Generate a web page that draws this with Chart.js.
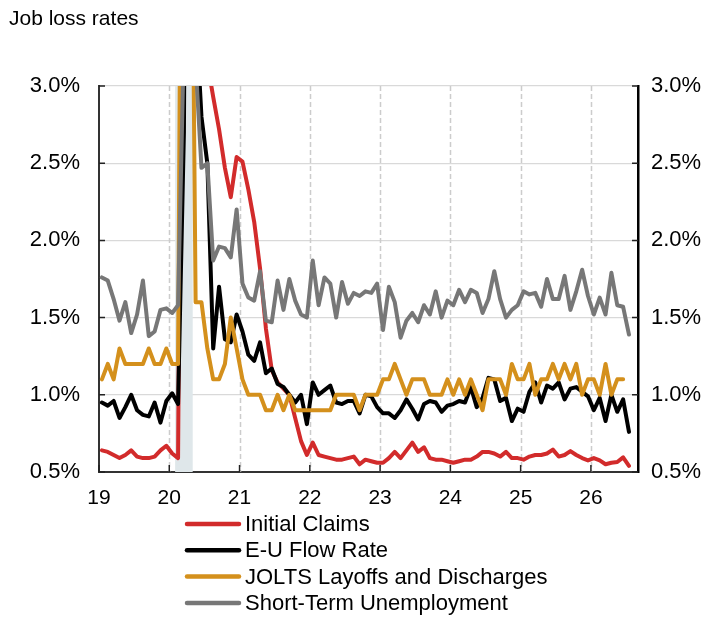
<!DOCTYPE html>
<html>
<head>
<meta charset="utf-8">
<title>Job loss rates</title>
<script src="https://cdn.jsdelivr.net/npm/chart.js@4.4.1/dist/chart.umd.min.js"></script>
<style>
    html, body { margin: 0; padding: 0; background: #fff; }
    #wrap { width: 712px; height: 622px; }
</style>
</head>
<body>
<div id="wrap"><canvas id="jobLossChart" width="712" height="622"></canvas></div>
<script>
// monthly data, Jan 2019 - Jul 2026 (percent)
const startYear = 2019;
const yearTicks = [2019, 2020, 2021, 2022, 2023, 2024, 2025, 2026];
const rateTicks = [0.5, 1.0, 1.5, 2.0, 2.5, 3.0];
const recessionStart = 2020 + 1 / 12;
const recessionEnd = 2020 + 4 / 12;

const seriesNames = ['Initial Claims', 'E-U Flow Rate', 'JOLTS Layoffs and Discharges', 'Short-Term Unemployment'];
const seriesColors = ['#d22b2b', '#000000', '#d4901c', '#777777'];

const initialClaims = [
    0.64, 0.63, 0.61, 0.59, 0.61, 0.64, 0.60, 0.59, 0.59, 0.60, 0.64, 0.67,
    0.62, 0.59, 6.0, 14.0, 8.0, 5.0, 3.15, 2.93, 2.72, 2.47, 2.28, 2.54,
    2.51, 2.33, 2.12, 1.82, 1.43, 1.16, 1.08, 1.04, 1.00, 0.85, 0.70, 0.61,
    0.69, 0.61, 0.60, 0.59, 0.58, 0.58, 0.59, 0.60, 0.55, 0.58, 0.57, 0.56,
    0.56, 0.59, 0.63, 0.59, 0.64, 0.69, 0.63, 0.66, 0.59, 0.58, 0.58, 0.57,
    0.56, 0.57, 0.58, 0.58, 0.60, 0.63, 0.63, 0.62, 0.60, 0.63, 0.59, 0.59,
    0.58, 0.60, 0.61, 0.61, 0.62, 0.645, 0.60, 0.61, 0.635, 0.61, 0.59, 0.575,
    0.59, 0.575, 0.55, 0.56, 0.565, 0.595, 0.54
];
const euFlowRate = [
    0.95, 0.93, 0.96, 0.85, 0.92, 1.00, 0.90, 0.87, 0.86, 0.95, 0.82, 0.96,
    1.01, 0.94, 2.7, 9.5, 3.5, 2.8, 2.5, 1.30, 1.70, 1.36, 1.34, 1.52,
    1.41, 1.26, 1.22, 1.34, 1.14, 1.17, 1.07, 1.05, 1.00, 0.95, 1.00, 0.81,
    1.08, 1.00, 1.03, 1.06, 0.95, 0.94, 0.96, 0.96, 0.88, 1.00, 0.99, 0.92,
    0.88, 0.88, 0.85, 0.90, 0.97, 0.91, 0.84, 0.94, 0.96, 0.95, 0.89, 0.93,
    0.94, 0.96, 0.95, 1.05, 0.92, 0.98, 1.11, 1.10, 0.96, 0.98, 0.83, 0.91,
    0.89, 1.02, 1.08, 0.95, 1.06, 1.04, 1.08, 0.97, 1.04, 1.05, 1.02, 0.99,
    0.90, 0.98, 0.83, 1.00, 0.89, 0.97, 0.76
];
const joltsLayoffs = [
    1.1, 1.2, 1.1, 1.3, 1.2, 1.2, 1.2, 1.2, 1.3, 1.2, 1.2, 1.3,
    1.2, 1.2, 7.5, 5.9, 1.6, 1.6, 1.3, 1.1, 1.1, 1.2, 1.5, 1.3,
    1.1, 1.0, 1.0, 1.0, 0.9, 0.9, 1.0, 0.9, 1.0, 0.9, 0.9, 0.9,
    0.9, 0.9, 0.9, 0.9, 1.0, 1.0, 1.0, 1.0, 0.9, 1.0, 1.0, 1.0,
    1.1, 1.1, 1.2, 1.1, 1.0, 1.1, 1.1, 1.1, 1.0, 1.0, 1.0, 1.1,
    1.0, 1.1, 1.0, 1.1, 1.0, 0.9, 1.1, 1.1, 1.1, 1.0, 1.2, 1.1,
    1.1, 1.2, 1.0, 1.1, 1.1, 1.2, 1.1, 1.2, 1.1, 1.2, 1.0, 1.1,
    1.1, 1.0, 1.2, 1.0, 1.1, 1.1, null
];
const shortTermUnemp = [
    1.76, 1.74, 1.62, 1.48, 1.60, 1.40, 1.52, 1.74, 1.38, 1.41, 1.55, 1.56,
    1.53, 1.58, 3.3, 9.0, 3.15, 2.47, 2.50, 1.87, 1.96, 1.95, 1.89, 2.20,
    1.72, 1.63, 1.61, 1.80, 1.48, 1.47, 1.74, 1.55, 1.75, 1.61, 1.52, 1.50,
    1.87, 1.58, 1.76, 1.72, 1.50, 1.73, 1.59, 1.66, 1.64, 1.67, 1.66, 1.72,
    1.42, 1.70, 1.60, 1.37, 1.48, 1.53, 1.47, 1.58, 1.52, 1.67, 1.50, 1.61,
    1.58, 1.68, 1.60, 1.68, 1.66, 1.53, 1.62, 1.80, 1.62, 1.50, 1.55, 1.58,
    1.67, 1.65, 1.66, 1.57, 1.75, 1.62, 1.62, 1.77, 1.55, 1.67, 1.81, 1.64,
    1.52, 1.63, 1.52, 1.79, 1.58, 1.57, 1.39
];

// points sit mid-month
const months = initialClaims.map((_, i) => startYear + (i + 0.5) / 12);

const FONT = 'Liberation Sans, Arial, Helvetica, sans-serif';

function toPoints(values) {
    return values.map((v, i) => ({ x: months[i], y: v }));
}

const extras = {
    id: 'extras',
    beforeDatasetsDraw(chart) {
        const { ctx, chartArea, scales } = chart;
        const x = scales.x;
        ctx.save();
        // dashed year lines
        ctx.strokeStyle = '#cccccc';
        ctx.lineWidth = 1.5;
        ctx.setLineDash([5, 3]);
        yearTicks.slice(1).forEach(yr => {
            const px = Math.round(x.getPixelForValue(yr)) + 0.5;
            ctx.beginPath();
            ctx.moveTo(px, chartArea.top);
            ctx.lineTo(px, chartArea.bottom);
            ctx.stroke();
        });
        ctx.setLineDash([]);
        // recession shading
        const x1 = x.getPixelForValue(recessionStart);
        const x2 = x.getPixelForValue(recessionEnd);
        ctx.fillStyle = '#dfe7ea';
        ctx.fillRect(x1, chartArea.top, x2 - x1, chartArea.bottom - chartArea.top);
        ctx.restore();
    },
    afterDraw(chart) {
        const { ctx, chartArea, scales } = chart;
        ctx.save();
        // inward tick marks
        ctx.strokeStyle = '#222';
        ctx.lineWidth = 1.5;
        rateTicks.forEach(v => {
            const py = scales.y.getPixelForValue(v);
            ctx.beginPath();
            ctx.moveTo(chartArea.left, py);
            ctx.lineTo(chartArea.left + 6, py);
            ctx.moveTo(chartArea.right - 6, py);
            ctx.lineTo(chartArea.right, py);
            ctx.stroke();
        });
        yearTicks.forEach(yr => {
            const px = scales.x.getPixelForValue(yr);
            ctx.beginPath();
            ctx.moveTo(px, chartArea.bottom);
            ctx.lineTo(px, chartArea.bottom - 7);
            ctx.stroke();
        });

        // title
        ctx.fillStyle = '#000';
        ctx.font = '21px ' + FONT;
        ctx.textAlign = 'left';
        ctx.textBaseline = 'alphabetic';
        ctx.fillText('Job loss rates', 9, 25);

        // legend, one entry per row
        ctx.font = '22px ' + FONT;
        ctx.textBaseline = 'middle';
        ctx.lineCap = 'round';
        chart.data.datasets.forEach((ds, i) => {
            const y = 524 + i * 26.3;
            ctx.strokeStyle = ds.borderColor;
            ctx.lineWidth = 4.5;
            ctx.beginPath();
            ctx.moveTo(187, y);
            ctx.lineTo(239, y);
            ctx.stroke();
            ctx.fillStyle = '#000';
            ctx.fillText(ds.label, 245, y + 1);
        });
        ctx.restore();
    }
};

const seriesData = [initialClaims, euFlowRate, joltsLayoffs, shortTermUnemp];
const drawOrder = [4, 3, 2, 1];

const ctx = document.getElementById('jobLossChart').getContext('2d');
new Chart(ctx, {
    type: 'line',
    data: {
        datasets: seriesData.map((vals, i) => ({
            label: seriesNames[i],
            data: toPoints(vals),
            borderColor: seriesColors[i],
            backgroundColor: seriesColors[i],
            borderWidth: 4,
            pointRadius: 0,
            tension: 0,
            fill: false,
            borderJoinStyle: 'round',
            borderCapStyle: 'round',
            order: drawOrder[i]
        }))
    },
    options: {
        responsive: false,
        animation: false,
        devicePixelRatio: 1,
        layout: { padding: { left: 0, right: 0, top: 86, bottom: 110 } },
        plugins: {
            legend: { display: false },
            title: { display: false },
            tooltip: { enabled: false }
        },
        scales: {
            x: {
                type: 'linear',
                min: 2019,
                max: 2026.67,
                afterBuildTicks: scale => {
                    scale.ticks = yearTicks.map(v => ({ value: v }));
                },
                afterFit: scale => { scale.height = 40; },
                ticks: {
                    callback: v => String(v - 2000),
                    color: '#000',
                    font: { family: FONT, size: 21 },
                    padding: 6,
                    maxRotation: 0,
                    autoSkip: false
                },
                grid: { display: false },
                border: { display: true, color: '#333', width: 2 }
            },
            y: {
                position: 'left',
                min: 0.5,
                max: 3.0,
                afterBuildTicks: scale => {
                    scale.ticks = rateTicks.map(v => ({ value: v }));
                },
                afterFit: scale => { scale.width = 99; },
                ticks: {
                    callback: v => v.toFixed(1) + '%',
                    color: '#000',
                    font: { family: FONT, size: 22 },
                    padding: 19
                },
                grid: { color: '#d9d9d9', lineWidth: 1.3, drawTicks: false },
                border: { display: true, color: '#333', width: 2 }
            },
            y2: {
                position: 'right',
                min: 0.5,
                max: 3.0,
                afterBuildTicks: scale => {
                    scale.ticks = rateTicks.map(v => ({ value: v }));
                },
                afterFit: scale => { scale.width = 74; },
                ticks: {
                    callback: v => v.toFixed(1) + '%',
                    color: '#000',
                    font: { family: FONT, size: 22 },
                    padding: 13
                },
                grid: { display: false, drawTicks: false },
                border: { display: true, color: '#000', width: 2.5 }
            }
        }
    },
    plugins: [extras]
});
</script>
</body>
</html>
